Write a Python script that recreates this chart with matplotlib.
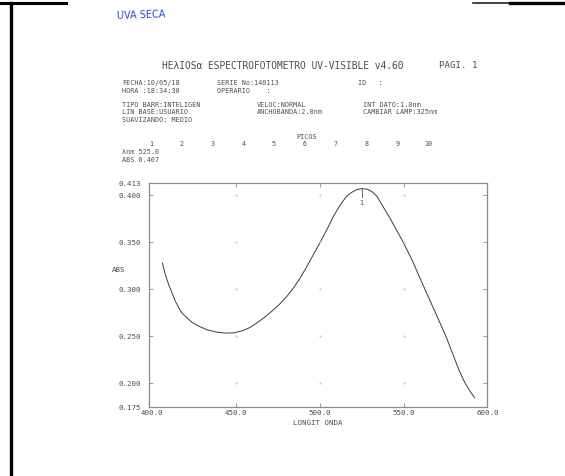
import numpy as np
import matplotlib.pyplot as plt
from matplotlib.lines import Line2D

# absorbance scan, 400-600 nm
longitud = [406.5, 408, 410, 412, 414, 416, 418, 421, 424, 428, 433, 438, 444,
            449, 454, 458, 462, 467, 472, 476, 480, 484, 488, 492, 496, 500,
            504, 508, 512, 516, 519, 522, 525, 528, 531, 534, 538, 542, 546,
            550, 555, 559, 563, 567, 571, 575, 579, 583, 586, 589, 592]
absorb = [0.328, 0.317, 0.306, 0.297, 0.288, 0.281, 0.275, 0.270, 0.265,
          0.261, 0.257, 0.2548, 0.2535, 0.2538, 0.256, 0.259, 0.2635, 0.270,
          0.2775, 0.284, 0.2915, 0.3005, 0.311, 0.323, 0.336, 0.349, 0.3625,
          0.377, 0.389, 0.399, 0.403, 0.406, 0.407, 0.4065, 0.404, 0.399,
          0.387, 0.375, 0.362, 0.349, 0.331, 0.3145, 0.2985, 0.2825, 0.2665,
          0.2505, 0.232, 0.2135, 0.202, 0.193, 0.185]

pico_nm = 525.0
pico_abs = 0.407

xticks = [400.0, 450.0, 500.0, 550.0, 600.0]
yticks = [0.175, 0.200, 0.250, 0.300, 0.350, 0.400, 0.413]
picos = [str(i) for i in range(1, 11)]

W, H = 565, 477
gris = '#4e4e4e'
mono = 'DejaVu Sans Mono'
fs = 4.9     # cabecera
fs_ax = 5.4  # etiquetas de ejes

fig = plt.figure(figsize=(W / 100, H / 100), dpi=100)
fig.patch.set_facecolor('white')


def px(x, y):
    return x / W, 1 - y / H


def txt(x, y, s, size=fs, ha='left', **kw):
    fx, fy = px(x, y)
    fig.text(fx, fy, s, fontsize=size, ha=ha, va='center', family=mono,
             color=kw.pop('color', gris), **kw)


# marco de la hoja
for (x0, y0, x1, y1, lw, c) in [(0, 4, 66, 4, 2.2, 'black'),
                                (473, 4, 510, 4, 1.2, '#222222'),
                                (510, 4, 565, 4, 2.4, 'black'),
                                (11, 4, 11, 477, 2.4, 'black')]:
    a, b = px(x0, y0)
    c2, d = px(x1, y1)
    fig.add_artist(Line2D([a, c2], [b, d], lw=lw, color=c,
                          transform=fig.transFigure))

# anotacion a mano
fx, fy = px(117, 15)
fig.text(fx, fy, 'UVA SECA', fontsize=7.0, color='#2c48c0', family='DejaVu Sans',
         va='center', ha='left', rotation=2)

# cabecera del informe
txt(162, 66, 'HEλIOSα ESPECTROFOTOMETRO UV-VISIBLE v4.60', size=6.9)
txt(439, 66, 'PAGI. 1', size=6.6)
txt(122, 83, 'FECHA:10/05/18')
txt(217, 83, 'SERIE No:140113')
txt(358, 83, 'ID   :')
txt(122, 91, 'HORA :18:34:30')
txt(217, 91, 'OPERARIO    :')
txt(122, 105, 'TIPO BARR:INTELIGEN')
txt(257, 105, 'VELOC:NORMAL')
txt(363, 105, 'INT DATO:1.0nm')
txt(122, 112.5, 'LIN BASE:USUARIO')
txt(257, 112.5, 'ANCHOBANDA:2.0nm')
txt(363, 112.5, 'CAMBIAR LAMP:325nm')
txt(122, 120, 'SUAVIZANDO: MEDIO')
txt(307, 137, 'PICOS', ha='center')
for xp, s in zip(np.linspace(151, 428, len(picos)), picos):
    txt(xp, 144.5, s, ha='center')
txt(122, 152.5, 'λnm %.1f' % pico_nm)
txt(122, 160, 'ABS %.3f' % pico_abs)

# grafico
ax = fig.add_axes([149 / W, 1 - 408 / H, 338 / W, 224 / H])
ax.plot(longitud, absorb, color='#3a3a3a', lw=0.7)
ax.set_xlim(398.5, 599.5)
ax.set_ylim(0.175, 0.413)

for s in ax.spines.values():
    s.set_color('#8a8a8a')
    s.set_linewidth(0.9)

ax.set_xticks(xticks[1:-1])
ax.set_yticks(yticks[1:-1])
ax.tick_params(direction='in', length=3, width=0.6, color='#8a8a8a',
               top=True, right=True, labelbottom=False, labelleft=False)

# puntos de reticula
gx, gy = np.meshgrid(xticks[1:-1], yticks[1:-1])
ax.plot(gx.ravel(), gy.ravel(), ls='none', marker='.', ms=1.2, color='#cfcfcf')

# etiquetas de los ejes
for v in yticks:
    ax.text(-0.024, (v - 0.175) / (0.413 - 0.175), '%.3f' % v,
            transform=ax.transAxes, ha='right', va='center',
            fontsize=fs_ax, family=mono, color=gris)
ax.text(-0.11, (0.322 - 0.175) / (0.413 - 0.175), 'ABS',
        transform=ax.transAxes, ha='left', va='center',
        fontsize=fs_ax, family=mono, color=gris)
for v in xticks:
    ax.text(v, -0.024, '%.1f' % v, transform=ax.get_xaxis_transform(),
            ha='center', va='center', fontsize=fs_ax, family=mono, color=gris)
ax.text(0.5, -0.068, 'LONGIT ONDA', transform=ax.transAxes, ha='center',
        va='center', fontsize=fs_ax, family=mono, color=gris)

# marca del pico
ax.plot([pico_nm, pico_nm], [pico_abs, pico_abs - 0.009], color='#555555', lw=0.6)
ax.text(pico_nm, pico_abs - 0.014, '1', ha='center', va='center',
        fontsize=fs, family=mono, color='#444444')

fig.savefig('out.png', dpi=100)
